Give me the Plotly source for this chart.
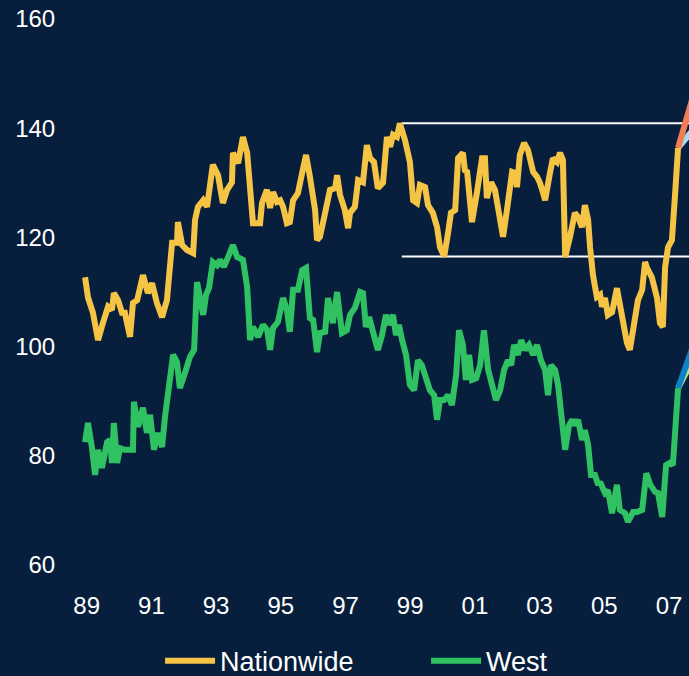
import plotly.graph_objects as go

# Monthly-ish index readings (decimal year, index level)
nat_year = [
    1988.95, 1989.04, 1989.19, 1989.35, 1989.50, 1989.66, 1989.78, 1989.84, 1989.97,
    1990.09, 1990.18, 1990.34, 1990.43, 1990.56, 1990.74, 1990.89, 1991.02, 1991.17,
    1991.33, 1991.48, 1991.64, 1991.79, 1991.82, 1991.95, 1992.10, 1992.29, 1992.35,
    1992.44, 1992.60, 1992.72, 1992.90, 1993.06, 1993.21, 1993.34, 1993.49, 1993.52,
    1993.68, 1993.83, 1993.96, 1994.11, 1994.14, 1994.36, 1994.42, 1994.57, 1994.67,
    1994.76, 1994.88, 1994.98, 1995.07, 1995.19, 1995.28, 1995.38, 1995.53, 1995.66,
    1995.78, 1995.90, 1996.06, 1996.12, 1996.21, 1996.37, 1996.52, 1996.68, 1996.74,
    1996.83, 1996.98, 1997.08, 1997.14, 1997.29, 1997.39, 1997.54, 1997.66, 1997.76,
    1997.88, 1998.00, 1998.16, 1998.28, 1998.38, 1998.47, 1998.59, 1998.68, 1998.84,
    1998.99, 1999.09, 1999.21, 1999.30, 1999.46, 1999.55, 1999.70, 1999.83, 1999.92,
    2000.05, 2000.17, 2000.26, 2000.39, 2000.48, 2000.63, 2000.69, 2000.76, 2000.91,
    2001.06, 2001.22, 2001.31, 2001.37, 2001.50, 2001.62, 2001.71, 2001.87, 2001.99,
    2002.15, 2002.24, 2002.30, 2002.39, 2002.52, 2002.64, 2002.80, 2002.92, 2003.01,
    2003.11, 2003.17, 2003.32, 2003.41, 2003.54, 2003.63, 2003.72, 2003.79, 2003.94,
    2004.09, 2004.19, 2004.31, 2004.40, 2004.50, 2004.56, 2004.62, 2004.65, 2004.77,
    2004.87, 2004.93, 2005.02, 2005.11, 2005.24, 2005.39, 2005.55, 2005.70, 2005.79,
    2005.89, 2006.04, 2006.17, 2006.26, 2006.32, 2006.47, 2006.63, 2006.72, 2006.81,
    2006.88, 2006.97, 2007.09, 2007.19, 2007.28,
]
nationwide = [
    112.7, 109.0, 106.3, 101.2, 104.3, 107.3, 106.7, 109.8, 108.5,
    106.2, 106.2, 101.8, 108.0, 108.5, 113.1, 109.8, 111.6, 108.0,
    105.4, 108.5, 119.0, 119.0, 122.8, 118.6, 117.7, 117.1, 123.2,
    125.6, 126.8, 125.6, 133.3, 131.4, 126.3, 128.7, 130.1, 135.5,
    133.6, 138.4, 135.5, 126.8, 122.6, 122.6, 126.3, 128.7, 125.4,
    128.3, 126.5, 126.8, 125.6, 122.6, 122.8, 126.8, 128.1, 131.8,
    135.1, 131.1, 125.0, 119.5, 120.1, 124.5, 128.7, 129.0, 131.4,
    127.8, 125.0, 121.7, 124.5, 125.6, 130.5, 130.1, 136.9, 134.5,
    133.8, 129.0, 130.0, 138.4, 136.6, 138.8, 138.4, 140.9, 137.8,
    133.8, 126.8, 126.3, 129.6, 129.2, 125.9, 124.5, 121.9, 118.2,
    116.5, 120.8, 124.5, 125.0, 134.5, 135.5, 132.3, 132.0, 122.8,
    128.1, 134.5, 134.5, 127.2, 130.1, 128.7, 125.6, 120.1, 125.0,
    132.0, 131.8, 129.2, 135.1, 137.3, 136.0, 132.0, 131.1, 130.0,
    128.1, 126.8, 131.8, 134.5, 133.8, 135.5, 134.2, 116.4, 120.1,
    124.5, 123.7, 121.9, 125.9, 123.2, 118.2, 113.7, 113.1, 109.1,
    109.5, 107.3, 108.9, 105.8, 106.3, 110.7, 104.9, 100.7, 99.4,
    103.6, 108.5, 110.4, 115.5, 114.4, 112.7, 108.9, 104.3, 103.6,
    114.6, 118.2, 119.5, 128.1, 136.4,
]

west_year = [
    1988.95, 1989.04, 1989.16, 1989.26, 1989.35, 1989.47, 1989.63, 1989.72, 1989.78,
    1989.84, 1989.94, 1990.03, 1990.18, 1990.43, 1990.46, 1990.59, 1990.74, 1990.86,
    1990.96, 1991.08, 1991.20, 1991.33, 1991.42, 1991.51, 1991.67, 1991.79, 1991.88,
    1992.04, 1992.19, 1992.32, 1992.41, 1992.47, 1992.60, 1992.69, 1992.78, 1992.90,
    1993.03, 1993.12, 1993.24, 1993.37, 1993.52, 1993.65, 1993.83, 1993.96, 1994.05,
    1994.14, 1994.30, 1994.45, 1994.58, 1994.67, 1994.76, 1994.91, 1995.07, 1995.19,
    1995.28, 1995.38, 1995.53, 1995.66, 1995.78, 1995.90, 1996.00, 1996.12, 1996.21,
    1996.37, 1996.46, 1996.61, 1996.74, 1996.89, 1997.04, 1997.14, 1997.29, 1997.45,
    1997.54, 1997.63, 1997.73, 1997.85, 1998.00, 1998.13, 1998.25, 1998.34, 1998.47,
    1998.56, 1998.65, 1998.75, 1998.87, 1998.99, 1999.12, 1999.24, 1999.36, 1999.49,
    1999.61, 1999.74, 1999.83, 1999.92, 2000.05, 2000.17, 2000.29, 2000.42, 2000.51,
    2000.63, 2000.72, 2000.82, 2000.91, 2001.04, 2001.16, 2001.28, 2001.41, 2001.53,
    2001.65, 2001.78, 2001.90, 2002.02, 2002.12, 2002.21, 2002.33, 2002.43, 2002.55,
    2002.67, 2002.80, 2002.92, 2003.04, 2003.17, 2003.26, 2003.35, 2003.48, 2003.57,
    2003.69, 2003.79, 2003.91, 2004.01, 2004.09, 2004.19, 2004.31, 2004.40, 2004.50,
    2004.59, 2004.71, 2004.81, 2004.87, 2005.02, 2005.11, 2005.24, 2005.39, 2005.48,
    2005.64, 2005.73, 2005.89, 2006.01, 2006.17, 2006.30, 2006.42, 2006.57, 2006.66,
    2006.79, 2006.91, 2007.03, 2007.12, 2007.19, 2007.28,
]
west = [
    82.5, 86.0, 81.6, 76.5, 81.1, 77.8, 82.5, 82.9, 78.7,
    86.0, 78.7, 81.4, 81.1, 81.1, 89.9, 85.3, 88.8, 84.2,
    87.5, 81.1, 84.2, 81.6, 87.1, 91.5, 98.5, 97.2, 92.4,
    95.2, 98.1, 99.4, 111.8, 110.0, 105.8, 109.5, 110.7, 115.5,
    114.9, 115.9, 114.6, 116.4, 118.6, 116.4, 115.9, 110.9, 101.2,
    103.6, 101.8, 104.0, 103.0, 99.4, 103.4, 104.5, 108.9, 106.7,
    102.7, 110.4, 110.4, 114.0, 114.4, 105.2, 104.9, 99.0, 102.5,
    102.7, 108.9, 104.3, 110.0, 102.5, 103.0, 105.8, 107.1, 110.0,
    109.8, 103.6, 105.4, 102.7, 99.4, 102.1, 105.8, 104.0, 105.8,
    102.1, 104.0, 101.2, 98.5, 93.0, 92.0, 97.5, 96.6, 94.2,
    92.0, 91.1, 86.6, 90.2, 90.2, 91.1, 89.3, 94.8, 103.0,
    100.3, 93.9, 98.5, 93.9, 94.2, 96.6, 103.0, 95.7, 93.0,
    90.2, 92.0, 95.7, 97.5, 96.6, 100.3, 98.5, 101.2, 99.4,
    100.3, 98.5, 100.3, 97.5, 95.7, 91.1, 96.6, 95.7, 93.0,
    86.6, 81.1, 85.6, 86.6, 85.6, 86.6, 82.9, 84.7, 82.0,
    76.5, 76.5, 74.7, 75.2, 73.2, 73.7, 69.5, 74.7, 70.1,
    69.5, 67.9, 69.7, 69.7, 70.1, 76.8, 74.7, 73.4, 73.2,
    68.8, 78.3, 78.7, 78.3, 84.2, 92.4,
]

# Projection paths beyond the last observation
proj_year = [2007.28, 2007.62, 2007.80]
nat_proj_high = [136.4, 143.3, 147.0]
nat_proj_low = [136.4, 138.8, 140.1]
west_proj_high = [92.4, 98.0, 101.0]
west_proj_low = [92.4, 96.3, 98.4]

# Range band: previous peak and trough of the nationwide index
band_year = [1998.74, 2008.5]
band_peak = 140.9
band_trough = 116.5

tick_years = [1989, 1991, 1993, 1995, 1997, 1999, 2001, 2003, 2005, 2007]
tick_text = ["89", "91", "93", "95", "97", "99", "01", "03", "05", "07"]
y_ticks = [60, 80, 100, 120, 140, 160]

BG = "#071f3d"
YELLOW = "#f6c445"
GREEN = "#30c262"

fig = go.Figure()

for level in (band_peak, band_trough):
    fig.add_trace(go.Scatter(
        x=band_year, y=[level, level], mode="lines",
        line=dict(color="white", width=2), showlegend=False, hoverinfo="skip",
    ))

fig.add_trace(go.Scatter(x=proj_year, y=nat_proj_low, mode="lines",
                         line=dict(color="#a6dcef", width=6), showlegend=False))
fig.add_trace(go.Scatter(x=proj_year, y=nat_proj_high, mode="lines",
                         line=dict(color="#f47c55", width=6), showlegend=False))
fig.add_trace(go.Scatter(x=proj_year, y=west_proj_low, mode="lines",
                         line=dict(color="#b6e388", width=6), showlegend=False))
fig.add_trace(go.Scatter(x=proj_year, y=west_proj_high, mode="lines",
                         line=dict(color="#0b83c6", width=6), showlegend=False))

fig.add_trace(go.Scatter(x=nat_year, y=nationwide, mode="lines", name="Nationwide",
                         line=dict(color=YELLOW, width=6)))
fig.add_trace(go.Scatter(x=west_year, y=west, mode="lines", name="West",
                         line=dict(color=GREEN, width=6)))

fig.update_layout(
    width=689, height=676,
    margin=dict(l=70, r=0, t=19, b=111),
    paper_bgcolor=BG, plot_bgcolor=BG,
    font=dict(family="Liberation Sans, Arial, sans-serif", color="white", size=24),
    legend=dict(
        orientation="h", xref="container", yref="container",
        x=0.2323, xanchor="left", y=0.022, yanchor="middle",
        font=dict(size=27, color="white"), itemwidth=50,
        entrywidth=201, entrywidthmode="pixels",
        bgcolor="rgba(0,0,0,0)",
    ),
    xaxis=dict(
        range=[1988.484, 2007.618], showgrid=False, zeroline=False, showline=False,
        tickmode="array", tickvals=tick_years, ticktext=tick_text,
        ticks="outside", ticklen=19, tickcolor="rgba(0,0,0,0)",
        tickfont=dict(size=24),
    ),
    yaxis=dict(
        range=[60, 160], showgrid=False, zeroline=False, showline=False,
        tickmode="array", tickvals=y_ticks,
        ticks="outside", ticklen=9, tickcolor="rgba(0,0,0,0)",
        tickfont=dict(size=24),
    ),
)

fig.write_html("out.html")
